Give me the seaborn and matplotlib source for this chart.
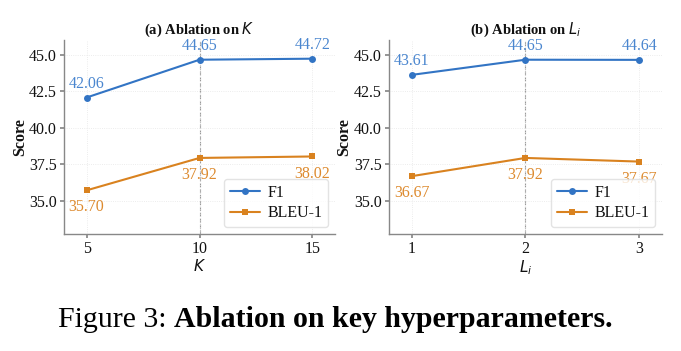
import pandas as pd
import matplotlib
matplotlib.use("Agg")
import matplotlib.pyplot as plt
import seaborn as sns

# data
k_vals = [5, 10, 15]
k_f1 = [42.06, 44.65, 44.72]
k_bleu = [35.70, 37.92, 38.02]

li_vals = [1, 2, 3]
li_f1 = [43.61, 44.65, 44.64]
li_bleu = [36.67, 37.92, 37.67]

BLUE = "#3274c4"
ORANGE = "#d9821f"
BLUE_TXT = "#4a86cf"
ORANGE_TXT = "#dd8a2e"

sns.set_theme(style="white")
plt.rcParams["font.family"] = ["Liberation Serif", "DejaVu Serif"]
plt.rcParams["mathtext.fontset"] = "dejavusans"
plt.rcParams.update({"text.color": "#111111", "axes.labelcolor": "#111111",
                     "xtick.color": "#111111", "ytick.color": "#111111"})

fig = plt.figure(figsize=(6.81, 3.51), dpi=100)
ax1 = fig.add_axes([0.094, 0.333, 0.398, 0.553])
ax2 = fig.add_axes([0.571, 0.333, 0.401, 0.553])


def panel(ax, xs, f1, bleu, title, xlabel, xlim):
    df = pd.DataFrame({"x": xs + xs,
                       "score": f1 + bleu,
                       "metric": ["F1"] * len(xs) + ["BLEU-1"] * len(xs)})
    sns.lineplot(data=df, x="x", y="score", hue="metric", style="metric",
                 markers={"F1": "o", "BLEU-1": "s"}, dashes=False,
                 palette={"F1": BLUE, "BLEU-1": ORANGE},
                 markersize=5, linewidth=1.5, markeredgewidth=0, ax=ax)
    best = xs[1]
    ax.axvline(best, color="#999999", ls="--", lw=0.8, zorder=0)
    for x, v in zip(xs, f1):
        ax.annotate(f"{v:.2f}", (x, v), xytext=(0, 7), textcoords="offset points",
                    ha="center", va="baseline", color=BLUE_TXT, fontsize=11.5)
    for x, v in zip(xs, bleu):
        ax.annotate(f"{v:.2f}", (x, v), xytext=(0, -6.5), textcoords="offset points",
                    ha="center", va="top", color=ORANGE_TXT, fontsize=11.5)
    ax.set_xticks(xs)
    ax.set_xlim(*xlim)
    ax.set_ylim(32.7, 46.0)
    ticks = [35.0, 37.5, 40.0, 42.5, 45.0]
    ax.set_yticks(ticks)
    ax.set_yticklabels([f"{t:.1f}" for t in ticks])
    ax.tick_params(axis="both", labelsize=11.5, length=3, color="#888888",
                   left=True, bottom=True, pad=2)
    ax.grid(True, color="#e6e6e6", lw=0.6, ls=":")
    for s in ["top", "right"]:
        ax.spines[s].set_visible(False)
    for s in ["left", "bottom"]:
        ax.spines[s].set_color("#888888")
        ax.spines[s].set_linewidth(1.0)
    ax.set_title(title, fontsize=10.5, fontweight="bold", pad=4.5)
    ax.set_xlabel(xlabel, fontsize=11, labelpad=1)
    ax.set_ylabel("Score", fontsize=11.5, fontweight="bold", labelpad=1)
    leg = ax.legend(loc="lower right", fontsize=11.5, frameon=True,
                    handlelength=1.9, handletextpad=0.45, borderpad=0.35,
                    labelspacing=0.3, borderaxespad=0.45)
    leg.set_title(None)
    leg.get_frame().set_edgecolor("#dddddd")


panel(ax1, k_vals, k_f1, k_bleu, r"(a) Ablation on $K$", r"$K$", (4.0, 16.0))
panel(ax2, li_vals, li_f1, li_bleu, r"(b) Ablation on $L_i$", r"$L_i$", (0.8, 3.2))

# caption: regular prefix followed by a bold part
cap_y = 0.068
t1 = fig.text(58 / 681, cap_y, "Figure 3: ", fontsize=21.5, color="black",
              ha="left", va="baseline")
fig.canvas.draw()
bb = t1.get_window_extent(renderer=fig.canvas.get_renderer())
fig.text(bb.x1 / fig.bbox.width, cap_y, "Ablation on key hyperparameters.",
         fontsize=21.5, fontweight="bold", color="black", ha="left", va="baseline")

fig.savefig("out.png", dpi=100)
